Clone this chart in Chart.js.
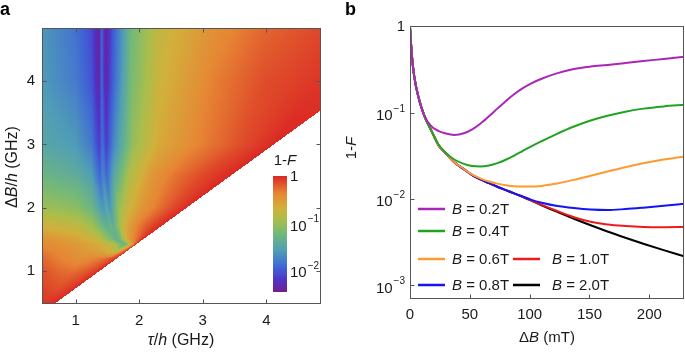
<!DOCTYPE html>
<html>
<head>
<meta charset="utf-8">
<script src="https://cdn.jsdelivr.net/npm/chart.js@4.4.0/dist/chart.umd.min.js"></script>
<style>
  html, body { margin: 0; padding: 0; background: #fff; }
  #wrap { position: relative; width: 685px; height: 352px; }
  #wrap canvas { position: absolute; top: 0; }
  #chartA { left: 0; }
  #chartB { left: 340px; }
</style>
</head>
<body>
<div id="wrap">
  <canvas id="chartA" width="340" height="352"></canvas>
  <canvas id="chartB" width="345" height="352"></canvas>
</div>
<script>
// ---- panel a: 1-F map, log10 values read along rows of constant dB/h ----
const mapRows = [4.84, 4.0, 3.0, 2.5, 2.0, 1.7, 1.5, 1.42, 1.2, 0.95, 0.48];
const mapTau = [
  [0.47, 1.0, 1.25, 1.36, 1.41, 1.47, 1.6, 1.88, 2.3, 3.17, 3.95, 4.87],
  [0.47, 1.0, 1.25, 1.36, 1.41, 1.47, 1.6, 1.88, 2.3, 3.17, 3.95, 4.87],
  [0.47, 1.0, 1.25, 1.37, 1.42, 1.48, 1.6, 1.9, 2.3, 2.9, 3.6, 4.12],
  [0.47, 1.0, 1.25, 1.38, 1.43, 1.49, 1.6, 1.85, 2.2, 2.56, 3.0, 3.43],
  [0.47, 1.0, 1.25, 1.43, 1.49, 1.54, 1.67, 1.82, 2.04, 2.3, 2.55, 2.74],
  [0.47, 1.0, 1.25, 1.5, 1.55, 1.6, 1.68, 1.77, 1.93, 2.1, 2.22, 2.33],
  [0.47, 1.0, 1.36, 1.6, 1.65, 1.7, 1.76, 1.82, 1.9, 1.97, 2.02, 2.06],
  [0.47, 1.0, 1.36, 1.6, 1.72, 1.77, 1.82, 1.86, 1.89, 1.91, 1.93, 1.95],
  [0.47, 0.8, 1.1, 1.3, 1.42, 1.48, 1.52, 1.55, 1.58, 1.6, 1.63, 1.65],
  [0.47, 0.7, 0.85, 0.95, 1.05, 1.12, 1.17, 1.21, 1.24, 1.26, 1.28, 1.30],
  [0.47, 0.49, 0.51, 0.53, 0.55, 0.57, 0.59, 0.61, 0.62, 0.63, 0.65, 0.66]
];
const mapLog = [
  [-1.65, -1.88, -2.12, -2.45, -1.95, -2.45, -2.0, -1.25, -0.8, -0.45, -0.25, -0.12],
  [-1.62, -1.83, -2.07, -2.4, -1.95, -2.4, -1.95, -1.2, -0.75, -0.35, -0.15, -0.05],
  [-1.5, -1.62, -1.85, -2.2, -1.9, -2.2, -1.75, -1.05, -0.65, -0.38, -0.15, 0],
  [-1.3, -1.42, -1.58, -1.95, -1.75, -1.95, -1.5, -0.9, -0.5, -0.3, -0.12, 0],
  [-1.0, -1.1, -1.3, -1.65, -1.5, -1.65, -1.05, -0.75, -0.5, -0.3, -0.12, 0],
  [-0.7, -0.8, -0.95, -1.4, -1.3, -1.4, -1.05, -0.7, -0.4, -0.2, -0.08, 0],
  [-0.45, -0.6, -0.8, -1.25, -1.4, -1.25, -0.9, -0.6, -0.4, -0.25, -0.1, 0],
  [-0.4, -0.5, -0.65, -0.85, -1.2, -1.35, -1.1, -0.8, -0.5, -0.3, -0.15, 0],
  [-0.25, -0.38, -0.45, -0.38, -0.3, -0.26, -0.22, -0.18, -0.14, -0.1, -0.05, 0],
  [-0.15, -0.22, -0.25, -0.24, -0.2, -0.16, -0.13, -0.1, -0.07, -0.05, -0.02, 0],
  [-0.04, -0.04, -0.04, -0.04, -0.03, -0.03, -0.03, -0.02, -0.02, -0.01, -0.01, 0]
];
// lower edge of the map (white below)
const edgeTau = [0.66, 4.87];
const edgeDB = [0.48, 3.55];
const mapTicks = [1, 2, 3, 4];
const cbTicks = [0, -1, -2];
const cbLabels = ['1', '10', '10'];
const cbExp = [null, '\u22121', '\u22122'];

// ---- panel b: 1-F vs dB ----
const fieldLabels = ['B = 0.2T', 'B = 0.4T', 'B = 0.6T', 'B = 0.8T', 'B = 1.0T', 'B = 2.0T'];
const deltaB = [0, 1.5, 3.5, 7, 12, 18, 24, 30, 37, 45, 52, 59, 66, 73, 80, 87, 94, 101, 110, 122, 137, 151, 165, 180, 195, 212, 229];
const infid02 = [1.0, 0.48, 0.27, 0.155, 0.093, 0.070, 0.062, 0.058, 0.056, 0.0585, 0.065, 0.076, 0.092, 0.113, 0.138, 0.166, 0.194, 0.221, 0.251, 0.288, 0.326, 0.348, 0.363, 0.382, 0.403, 0.427, 0.453];
const infid04 = [1.0, 0.48, 0.27, 0.155, 0.093, 0.062, 0.043, 0.0345, 0.029, 0.0258, 0.0243, 0.0240, 0.0247, 0.0263, 0.0288, 0.0322, 0.0363, 0.0409, 0.0473, 0.0569, 0.0700, 0.0822, 0.0933, 0.104, 0.113, 0.120, 0.125];
const infid06 = [1.0, 0.48, 0.27, 0.155, 0.093, 0.062, 0.042, 0.034, 0.027, 0.0225, 0.0193, 0.0174, 0.0161, 0.0152, 0.0146, 0.0142, 0.0141, 0.0141, 0.0143, 0.0152, 0.0168, 0.0188, 0.0210, 0.0236, 0.0262, 0.029, 0.0315];
const infid08 = [1.0, 0.48, 0.27, 0.155, 0.093, 0.062, 0.042, 0.034, 0.027, 0.0224, 0.0191, 0.0170, 0.0154, 0.0140, 0.0128, 0.0117, 0.0108, 0.0099, 0.0091, 0.0084, 0.0079, 0.0076, 0.0075, 0.0077, 0.0080, 0.0084, 0.0089];
const infid10 = [1.0, 0.48, 0.27, 0.155, 0.093, 0.062, 0.042, 0.034, 0.027, 0.0224, 0.0191, 0.0170, 0.0154, 0.0140, 0.0128, 0.0117, 0.0107, 0.0097, 0.0086, 0.0074, 0.0062, 0.0055, 0.0051, 0.0049, 0.00478, 0.00475, 0.00476];
const infid20 = [1.0, 0.48, 0.27, 0.155, 0.093, 0.062, 0.042, 0.034, 0.027, 0.0224, 0.0191, 0.0170, 0.0154, 0.0140, 0.0128, 0.0117, 0.0107, 0.0097, 0.00853, 0.00723, 0.00594, 0.00499, 0.00423, 0.00358, 0.00305, 0.00257, 0.00218];
const xTicksB = [0, 50, 100, 150, 200];
const yTicksB = [0.001, 0.01, 0.1, 1];
const yLabelsB = ['10', '10', '10', '1'];
const yExpB = ['\u22123', '\u22122', '\u22121', null];

const allSeries = [infid02, infid04, infid06, infid08, infid10, infid20];
const lineColors = ['#a926b8', '#21a321', '#ff9a30', '#1414f5', '#ee1b1b', '#000000'];

const FONT = '"Liberation Sans", Arial, Helvetica, sans-serif';
const INK = '#1a1a1a';

// Rainbow-like colour map (t = 0 purple .. 1 red)
const cmap = [
  [0.00, [118, 30, 136]],
  [0.10, [78, 50, 200]],
  [0.22, [64, 104, 214]],
  [0.36, [80, 158, 182]],
  [0.50, [114, 184, 122]],
  [0.62, [168, 190, 76]],
  [0.72, [210, 176, 60]],
  [0.85, [230, 134, 52]],
  [1.00, [219, 40, 36]]
];
const cbMin = -2.5, cbMax = 0;

function colorAt(t) {
  t = Math.max(0, Math.min(1, t));
  for (let i = 1; i < cmap.length; i++) {
    if (t <= cmap[i][0]) {
      const a = cmap[i - 1], b = cmap[i];
      const f = (t - a[0]) / (b[0] - a[0]);
      return a[1].map((c, k) => Math.round(c + (b[1][k] - c) * f));
    }
  }
  return cmap[cmap.length - 1][1];
}

function rowProfile(db) {
  let j = 0;
  while (j < mapRows.length - 2 && db < mapRows[j + 1]) j++;
  let f = (mapRows[j] - db) / (mapRows[j] - mapRows[j + 1]);
  f = Math.max(0, Math.min(1, f));
  return {
    tau: mapTau[j].map((v, k) => v + (mapTau[j + 1][k] - v) * f),
    lg: mapLog[j].map((v, k) => v + (mapLog[j + 1][k] - v) * f)
  };
}

function valueAt(prof, tau) {
  const kt = prof.tau, lg = prof.lg;
  if (tau <= kt[0]) return lg[0];
  for (let k = 1; k < kt.length; k++) {
    if (tau <= kt[k]) {
      const span = kt[k] - kt[k - 1];
      if (span <= 0) return lg[k];
      return lg[k - 1] + (lg[k] - lg[k - 1]) * (tau - kt[k - 1]) / span;
    }
  }
  return lg[lg.length - 1];
}

function edgeAt(tau) {
  const s = (edgeDB[1] - edgeDB[0]) / (edgeTau[1] - edgeTau[0]);
  return edgeDB[0] + (tau - edgeTau[0]) * s;
}

function drawRich(ctx, parts, cx, cy, size, rotate) {
  ctx.save();
  ctx.translate(cx, cy);
  if (rotate) ctx.rotate(-Math.PI / 2);
  const fontFor = it => (it ? 'italic ' : '') + size + 'px ' + FONT;
  let total = 0;
  for (const [t, it] of parts) { ctx.font = fontFor(it); total += ctx.measureText(t).width; }
  let x = -total / 2;
  ctx.textBaseline = 'middle';
  ctx.textAlign = 'left';
  ctx.fillStyle = INK;
  for (const [t, it] of parts) {
    ctx.font = fontFor(it);
    ctx.fillText(t, x, 0);
    x += ctx.measureText(t).width;
  }
  ctx.restore();
}

// label like 10^-1, anchored left or right at x, centred at y
function drawPow(ctx, base, exp, x, y, align) {
  ctx.save();
  ctx.textBaseline = 'middle';
  ctx.textAlign = 'left';
  ctx.fillStyle = INK;
  ctx.font = '15px ' + FONT;
  const wb = ctx.measureText(base).width;
  ctx.font = '10px ' + FONT;
  const we = exp ? ctx.measureText(exp).width + 1 : 0;
  const x0 = align === 'right' ? x - wb - we : x;
  const yb = exp ? y + 3 : y;
  ctx.font = '15px ' + FONT;
  ctx.fillText(base, x0, yb);
  if (exp) {
    ctx.font = '10px ' + FONT;
    ctx.fillText(exp, x0 + wb + 1, yb - 7);
  }
  ctx.restore();
}

function drawFrame(chart, len, allSides) {
  const { ctx, chartArea: a, scales: { x, y } } = chart;
  ctx.save();
  ctx.strokeStyle = '#555';
  ctx.lineWidth = 1;
  const L = Math.round(a.left) + 0.5, R = Math.round(a.right) - 0.5;
  const T = Math.round(a.top) + 0.5, B = Math.round(a.bottom) - 0.5;
  ctx.strokeRect(L, T, R - L, B - T);
  ctx.beginPath();
  for (const t of x.ticks) {
    const px = Math.round(x.getPixelForValue(t.value)) + 0.5;
    if (px <= L + 1 || px >= R - 1) continue;
    ctx.moveTo(px, B); ctx.lineTo(px, B - len);
    if (allSides) { ctx.moveTo(px, T); ctx.lineTo(px, T + len); }
  }
  for (const t of y.ticks) {
    const py = Math.round(y.getPixelForValue(t.value)) + 0.5;
    if (py <= T + 1 || py >= B - 1) continue;
    ctx.moveTo(L, py); ctx.lineTo(L + len, py);
    if (allSides) { ctx.moveTo(R, py); ctx.lineTo(R - len, py); }
  }
  ctx.stroke();
  ctx.restore();
}

function panelLetter(ctx, letter, x) {
  ctx.save();
  ctx.font = 'bold 18px ' + FONT;
  ctx.fillStyle = '#000';
  ctx.textBaseline = 'alphabetic';
  ctx.fillText(letter, x, 15);
  ctx.restore();
}

// ---------- panel a ----------
const heatPlugin = {
  id: 'heat',
  beforeDraw(chart) {
    const { ctx, chartArea: a, scales: { x, y } } = chart;
    const w = Math.round(a.right - a.left), h = Math.round(a.bottom - a.top);
    const off = document.createElement('canvas');
    off.width = w; off.height = h;
    const octx = off.getContext('2d');
    const img = octx.createImageData(w, h);
    for (let py = 0; py < h; py++) {
      const db = y.getValueForPixel(a.top + py + 0.5);
      const prof = rowProfile(db);
      for (let px = 0; px < w; px++) {
        const tau = x.getValueForPixel(a.left + px + 0.5);
        if (db < edgeAt(tau)) continue;
        const c = colorAt((valueAt(prof, tau) - cbMin) / (cbMax - cbMin));
        const i = (py * w + px) * 4;
        img.data[i] = c[0]; img.data[i + 1] = c[1]; img.data[i + 2] = c[2]; img.data[i + 3] = 255;
      }
    }
    octx.putImageData(img, 0, 0);
    ctx.drawImage(off, Math.round(a.left), Math.round(a.top));
  },
  afterDraw(chart) {
    const ctx = chart.ctx;
    drawFrame(chart, 4, true);

    // colour bar
    const bx = 273, bw = 14, top = 176, bh = 116;
    for (let i = 0; i < bh; i++) {
      const c = colorAt(1 - (i + 0.5) / bh);
      ctx.fillStyle = 'rgb(' + c.join(',') + ')';
      ctx.fillRect(bx, top + i, bw, 1);
    }
    cbTicks.forEach((v, i) => {
      const yy = top + (cbMax - v) / (cbMax - cbMin) * bh;
      drawPow(ctx, cbLabels[i], cbExp[i], bx + bw + 3, yy + 1, 'left');
    });
    drawRich(ctx, [['1-', false], ['F', true]], 285, 161, 15, false);

    drawRich(ctx, [['\u03c4', true], ['/', false], ['h', true], [' (GHz)', false]], 181, 341, 16, false);
    drawRich(ctx, [['\u0394', false], ['B', true], ['/', false], ['h', true], [' (GHz)', false]], 13, 167, 16, true);
    panelLetter(ctx, 'a', 0);
  }
};

const tickFont = { family: FONT, size: 15 };

new Chart(document.getElementById('chartA'), {
  type: 'scatter',
  data: { datasets: [] },
  options: {
    responsive: false,
    animation: false,
    layout: { padding: { left: 0, right: 19, top: 28, bottom: 0 } },
    plugins: { legend: { display: false }, tooltip: { enabled: false } },
    scales: {
      x: {
        type: 'linear', min: 0.47, max: 4.86,
        afterFit: s => { s.height = 48; },
        afterBuildTicks: s => { s.ticks = mapTicks.map(v => ({ value: v })); },
        grid: { display: false, drawTicks: false },
        border: { display: false },
        ticks: { padding: 8, color: INK, font: tickFont }
      },
      y: {
        type: 'linear', min: 0.48, max: 4.84,
        afterFit: s => { s.width = 42; },
        afterBuildTicks: s => { s.ticks = mapTicks.map(v => ({ value: v })); },
        grid: { display: false, drawTicks: false },
        border: { display: false },
        ticks: { padding: 7, color: INK, font: tickFont }
      }
    }
  },
  plugins: [heatPlugin]
});

// ---------- panel b ----------
// legend slots: [line start x, text x, centre y] in canvas pixels
const legendSlots = [
  [78, 112, 209], [78, 112, 231], [78, 112, 259], [78, 112, 285],
  [173, 212, 259], [173, 212, 285]
];

const decorB = {
  id: 'decorB',
  afterDraw(chart) {
    const { ctx, chartArea: a, scales: { y } } = chart;
    drawFrame(chart, 4, false);
    yTicksB.forEach((v, i) => {
      drawPow(ctx, yLabelsB[i], yExpB[i], a.left - 5, y.getPixelForValue(v), 'right');
    });
    chart.data.datasets.forEach((ds, i) => {
      const [lx, tx, ly] = legendSlots[i];
      ctx.save();
      ctx.strokeStyle = ds.borderColor;
      ctx.lineWidth = 2.5;
      ctx.beginPath();
      ctx.moveTo(lx, ly); ctx.lineTo(lx + 27, ly);
      ctx.stroke();
      ctx.restore();
      const parts = ds.label.split(' ');
      const rest = ' ' + parts.slice(1).join(' ');
      ctx.save();
      ctx.font = 'italic 15px ' + FONT;
      const w0 = ctx.measureText(parts[0]).width;
      ctx.font = '15px ' + FONT;
      const w1 = ctx.measureText(rest).width;
      ctx.restore();
      drawRich(ctx, [[parts[0], true], [rest, false]], tx + (w0 + w1) / 2, ly + 0.5, 15, false);
    });
    drawRich(ctx, [['\u0394', false], ['B', true], [' (mT)', false]], 207, 338, 15, false);
    drawRich(ctx, [['1-', false], ['F', true]], 12, 148, 15, true);
    panelLetter(ctx, 'b', 5);
  }
};

new Chart(document.getElementById('chartB'), {
  type: 'line',
  data: {
    datasets: fieldLabels.map((label, i) => ({
      label: label,
      data: deltaB.map((x, k) => ({ x: x, y: allSeries[i][k] })),
      borderColor: lineColors[i],
      borderWidth: 2,
      pointRadius: 0,
      fill: false,
      cubicInterpolationMode: 'monotone'
    }))
  },
  options: {
    responsive: false,
    animation: false,
    layout: { padding: { left: 0, right: 1, top: 26, bottom: 0 } },
    plugins: { legend: { display: false }, tooltip: { enabled: false } },
    scales: {
      x: {
        type: 'linear', min: 0, max: 229,
        afterFit: s => { s.height = 53; },
        afterBuildTicks: s => { s.ticks = xTicksB.map(v => ({ value: v })); },
        grid: { display: false, drawTicks: false },
        border: { display: false },
        ticks: { padding: 7, color: INK, font: tickFont }
      },
      y: {
        type: 'logarithmic', min: 0.000695, max: 1.03,
        afterFit: s => { s.width = 70; },
        afterBuildTicks: s => { s.ticks = yTicksB.map(v => ({ value: v })); },
        grid: { display: false, drawTicks: false },
        border: { display: false },
        ticks: { display: false }
      }
    }
  },
  plugins: [decorB]
});
</script>
</body>
</html>
